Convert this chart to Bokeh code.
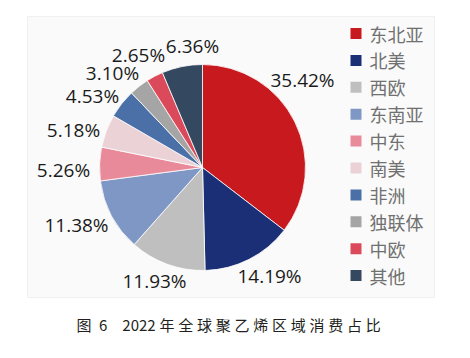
from bokeh.plotting import figure
from bokeh.models import Range1d, ColumnDataSource
from bokeh.embed import file_html
from bokeh.resources import INLINE
from bokeh.core.properties import value
import math

# ---- data ----
regions = ["东北亚", "北美", "西欧", "东南亚", "中东", "南美", "非洲", "独联体", "中欧", "其他"]
shares = [35.42, 14.19, 11.93, 11.38, 5.26, 5.18, 4.53, 3.10, 2.65, 6.36]
title_text = ("图\u20026\u2002\u20022022\u2005年\u2005全\u2005球\u2005聚\u2005乙"
              "\u2005烯\u2005区\u2005域\u2005消\u2005费\u2005占\u2005比")

# ---- styles / layout ----
colors = ["#C8191F", "#1B2F77", "#BFBFBF", "#7E97C4", "#E98A9A",
          "#EBD2D6", "#4B70A8", "#A5A5A5", "#DB4A5A", "#34495F"]
# label offsets from pie centre (px, y downward)
label_offsets = [(100, -88), (67, 108), (-48, 113), (-126, 57), (-139, 2),
                 (-129, -38), (-110, -72), (-90, -95), (-64, -113), (-10, -122)]

W, H = 454, 342
cx, cy, R = 202, 175, 103

p = figure(width=W, height=H, x_range=Range1d(0, W), y_range=Range1d(0, H),
           output_backend="svg", toolbar_location=None, min_border=0,
           x_axis_type=None, y_axis_type=None)
p.grid.visible = False
p.outline_line_color = None
p.background_fill_color = "white"
p.border_fill_color = "white"

# panel
p.quad(left=[27], right=[434], bottom=[45], top=[326],
       fill_color="#fafafa", line_color="#f0f0f0", line_width=1)

# wedges
total = sum(shares)
starts, ends = [], []
cum = 0.0
for s in shares:
    starts.append(math.pi / 2 - cum / total * 2 * math.pi)
    cum += s
    ends.append(math.pi / 2 - cum / total * 2 * math.pi)
src = ColumnDataSource(dict(start=starts, end=ends, color=colors, region=regions, share=shares))
p.wedge(x=cx, y=cy, radius=R, start_angle="start", end_angle="end", direction="clock",
        fill_color="color", line_color="white", line_width=0.8, source=src)

# value labels
lx = [cx + dx for dx, dy in label_offsets]
ly = [cy - dy for dx, dy in label_offsets]
labels = [f"{s:.2f}%" for s in shares]
p.text(x=lx, y=ly, text=labels, text_align="center", text_baseline="middle",
       text_font=value("Open Sans"), text_font_size="19px", text_color="#1a1a1a")

# legend
step = 26.9
leg_y = [H - (33 + i * step) for i in range(len(regions))]
p.rect(x=[355.5] * len(regions), y=leg_y, width=11, height=11,
       fill_color=colors, line_color=None)
p.text(x=[369] * len(regions), y=leg_y, text=regions, text_align="left",
       text_baseline="middle", text_font=value("Noto Sans CJK SC"),
       text_font_size="18px", text_color="#707070")

# caption
p.text(x=[76], y=[18], text=[title_text], text_align="left", text_baseline="middle",
       text_font=value("Noto Sans CJK SC"), text_font_size="15px", text_color="#231f20")

open("out.html", "w").write(file_html(p, INLINE))
